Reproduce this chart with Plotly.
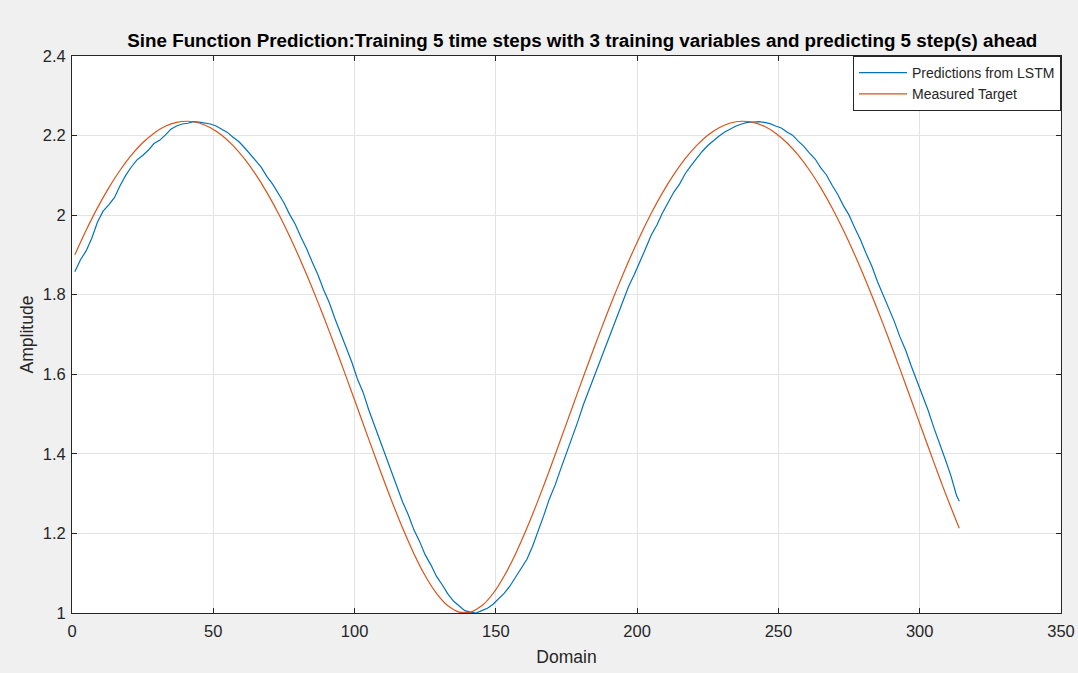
import plotly.graph_objects as go

# ---- data ----
target_x = [1, 5, 9, 13, 17, 21, 25, 29, 33, 37, 41, 45, 49, 53, 57, 61, 65, 69, 73, 77,
            81, 85, 89, 93, 97, 101, 105, 109, 113, 117, 121, 125, 129, 133, 137, 141, 145, 149, 153, 157,
            161, 165, 169, 173, 177, 181, 185, 189, 193, 197, 201, 205, 209, 213, 217, 221, 225, 229, 233, 237,
            241, 245, 249, 253, 257, 261, 265, 269, 273, 277, 281, 285, 289, 293, 297, 301, 305, 309, 313, 314]
target_y = [1.9005, 1.9620, 2.0182, 2.0685, 2.1129, 2.1507, 2.1819, 2.2061, 2.2233, 2.2333,
            2.2360, 2.2315, 2.2197, 2.2007, 2.1747, 2.1418, 2.1023, 2.0566, 2.0046, 1.9470,
            1.8844, 1.8171, 1.7458, 1.6712, 1.5942, 1.5158, 1.4371, 1.3593, 1.2842, 1.2134,
            1.1492, 1.0936, 1.0492, 1.0180, 1.0020, 1.0020, 1.0180, 1.0490, 1.0937, 1.1492,
            1.2135, 1.2843, 1.3594, 1.4372, 1.5159, 1.5943, 1.6713, 1.7459, 1.8172, 1.8845,
            1.9471, 2.0047, 2.0566, 2.1023, 2.1418, 2.1747, 2.2007, 2.2197, 2.2315, 2.2360,
            2.2333, 2.2233, 2.2061, 2.1819, 2.1506, 2.1128, 2.0684, 2.0181, 1.9619, 1.9005,
            1.8341, 1.7636, 1.6899, 1.6135, 1.5355, 1.4568, 1.3786, 1.3025, 1.2304, 1.2130]

pred_x = [1, 3, 5, 7, 9, 11, 13, 15, 17, 19, 21, 23, 25, 27, 29, 31, 33, 35, 37, 39,
          41, 43, 45, 47, 49, 51, 53, 55, 57, 59, 61, 63, 65, 67, 69, 71, 73, 75, 77, 79,
          81, 83, 85, 87, 89, 91, 93, 95, 97, 99, 101, 103, 105, 107, 109, 111, 113, 115, 117, 119,
          121, 123, 125, 127, 129, 131, 133, 135, 137, 139, 141, 143, 145, 147, 149, 151, 153, 155, 157, 159,
          161, 163, 165, 167, 169, 171, 173, 175, 177, 179, 181, 183, 185, 187, 189, 191, 193, 195, 197, 199,
          201, 203, 205, 207, 209, 211, 213, 215, 217, 219, 221, 223, 225, 227, 229, 231, 233, 235, 237, 239,
          241, 243, 245, 247, 249, 251, 253, 255, 257, 259, 261, 263, 265, 267, 269, 271, 273, 275, 277, 279,
          281, 283, 285, 287, 289, 291, 293, 295, 297, 299, 301, 303, 305, 307, 309, 311, 313, 314]
pred_y = [1.858, 1.888, 1.910, 1.942, 1.982, 2.010, 2.026, 2.044, 2.074, 2.100,
          2.121, 2.139, 2.150, 2.163, 2.180, 2.188, 2.201, 2.216, 2.224, 2.229,
          2.231, 2.235, 2.234, 2.232, 2.229, 2.224, 2.216, 2.208, 2.196, 2.185,
          2.170, 2.152, 2.137, 2.120, 2.097, 2.078, 2.054, 2.031, 2.002, 1.977,
          1.945, 1.916, 1.882, 1.851, 1.813, 1.781, 1.741, 1.705, 1.666, 1.631,
          1.588, 1.555, 1.511, 1.473, 1.431, 1.397, 1.354, 1.319, 1.279, 1.247,
          1.209, 1.180, 1.146, 1.121, 1.092, 1.071, 1.048, 1.030, 1.017, 1.006,
          1.002, 1.000, 1.006, 1.012, 1.022, 1.035, 1.050, 1.068, 1.090, 1.110,
          1.135, 1.168, 1.205, 1.246, 1.288, 1.322, 1.363, 1.401, 1.444, 1.481,
          1.524, 1.561, 1.603, 1.640, 1.676, 1.709, 1.750, 1.785, 1.821, 1.851,
          1.886, 1.916, 1.950, 1.975, 2.006, 2.031, 2.058, 2.078, 2.104, 2.124,
          2.143, 2.160, 2.175, 2.188, 2.199, 2.209, 2.217, 2.224, 2.229, 2.233,
          2.234, 2.235, 2.233, 2.230, 2.224, 2.219, 2.209, 2.201, 2.186, 2.173,
          2.156, 2.141, 2.119, 2.101, 2.075, 2.052, 2.024, 2.000, 1.968, 1.939,
          1.904, 1.873, 1.834, 1.801, 1.765, 1.733, 1.694, 1.661, 1.621, 1.585,
          1.545, 1.509, 1.466, 1.429, 1.387, 1.346, 1.296, 1.281]

x_ticks = [0, 50, 100, 150, 200, 250, 300, 350]
y_ticks = [1.0, 1.2, 1.4, 1.6, 1.8, 2.0, 2.2, 2.4]
y_tick_text = ["1", "1.2", "1.4", "1.6", "1.8", "2", "2.2", "2.4"]

series_names = ["Predictions from LSTM", "Measured Target"]
title_text = ("Sine Function Prediction:Training 5 time steps with 3 training "
              "variables and predicting 5 step(s) ahead")

FONT = "Liberation Sans, Arial, Helvetica, sans-serif"
AXC = "#262626"

fig = go.Figure()
fig.add_trace(go.Scatter(x=pred_x, y=pred_y, mode="lines", name=series_names[0],
                         line=dict(color="#0072BD", width=1.2)))
fig.add_trace(go.Scatter(x=target_x, y=target_y, mode="lines", name=series_names[1],
                         line=dict(color="#D95319", width=1.2, shape="spline", smoothing=0.6)))

axis_common = dict(showgrid=True, gridcolor="#e3e3e3", gridwidth=1, zeroline=False,
                   showline=True, linecolor=AXC, linewidth=1, mirror="ticks",
                   ticks="inside", ticklen=5, tickcolor=AXC, tickwidth=1,
                   automargin=False,
                   tickfont=dict(family=FONT, size=16.5, color=AXC))

fig.update_xaxes(range=[0, 350], tickvals=x_ticks, ticktext=[str(v) for v in x_ticks],
                 ticklabelstandoff=3,
                 title=dict(text="Domain", font=dict(family=FONT, size=17.5, color=AXC), standoff=11),
                 **axis_common)
fig.update_yaxes(range=[1, 2.4], tickvals=y_ticks, ticktext=y_tick_text,
                 ticklabelstandoff=2,
                 title=dict(text="Amplitude", font=dict(family=FONT, size=17.5, color=AXC), standoff=4),
                 **axis_common)

fig.update_layout(
    width=1078, height=673,
    paper_bgcolor="#f0f0f0", plot_bgcolor="#ffffff",
    margin=dict(l=72, r=17, t=56, b=60),
    title=dict(text="<b>" + title_text + "</b>", x=0.516, xref="paper", xanchor="center",
               y=1 - 40 / 673, yref="container", yanchor="middle",
               font=dict(family=FONT, size=18.8, color="#000000")),
    legend=dict(x=1, y=1, xanchor="right", yanchor="top", xref="paper", yref="paper",
                bgcolor="#ffffff", bordercolor=AXC, borderwidth=1,
                font=dict(family=FONT, size=14, color=AXC),
                tracegroupgap=0, itemwidth=48),
    showlegend=True,
)

fig.write_html("out.html")
